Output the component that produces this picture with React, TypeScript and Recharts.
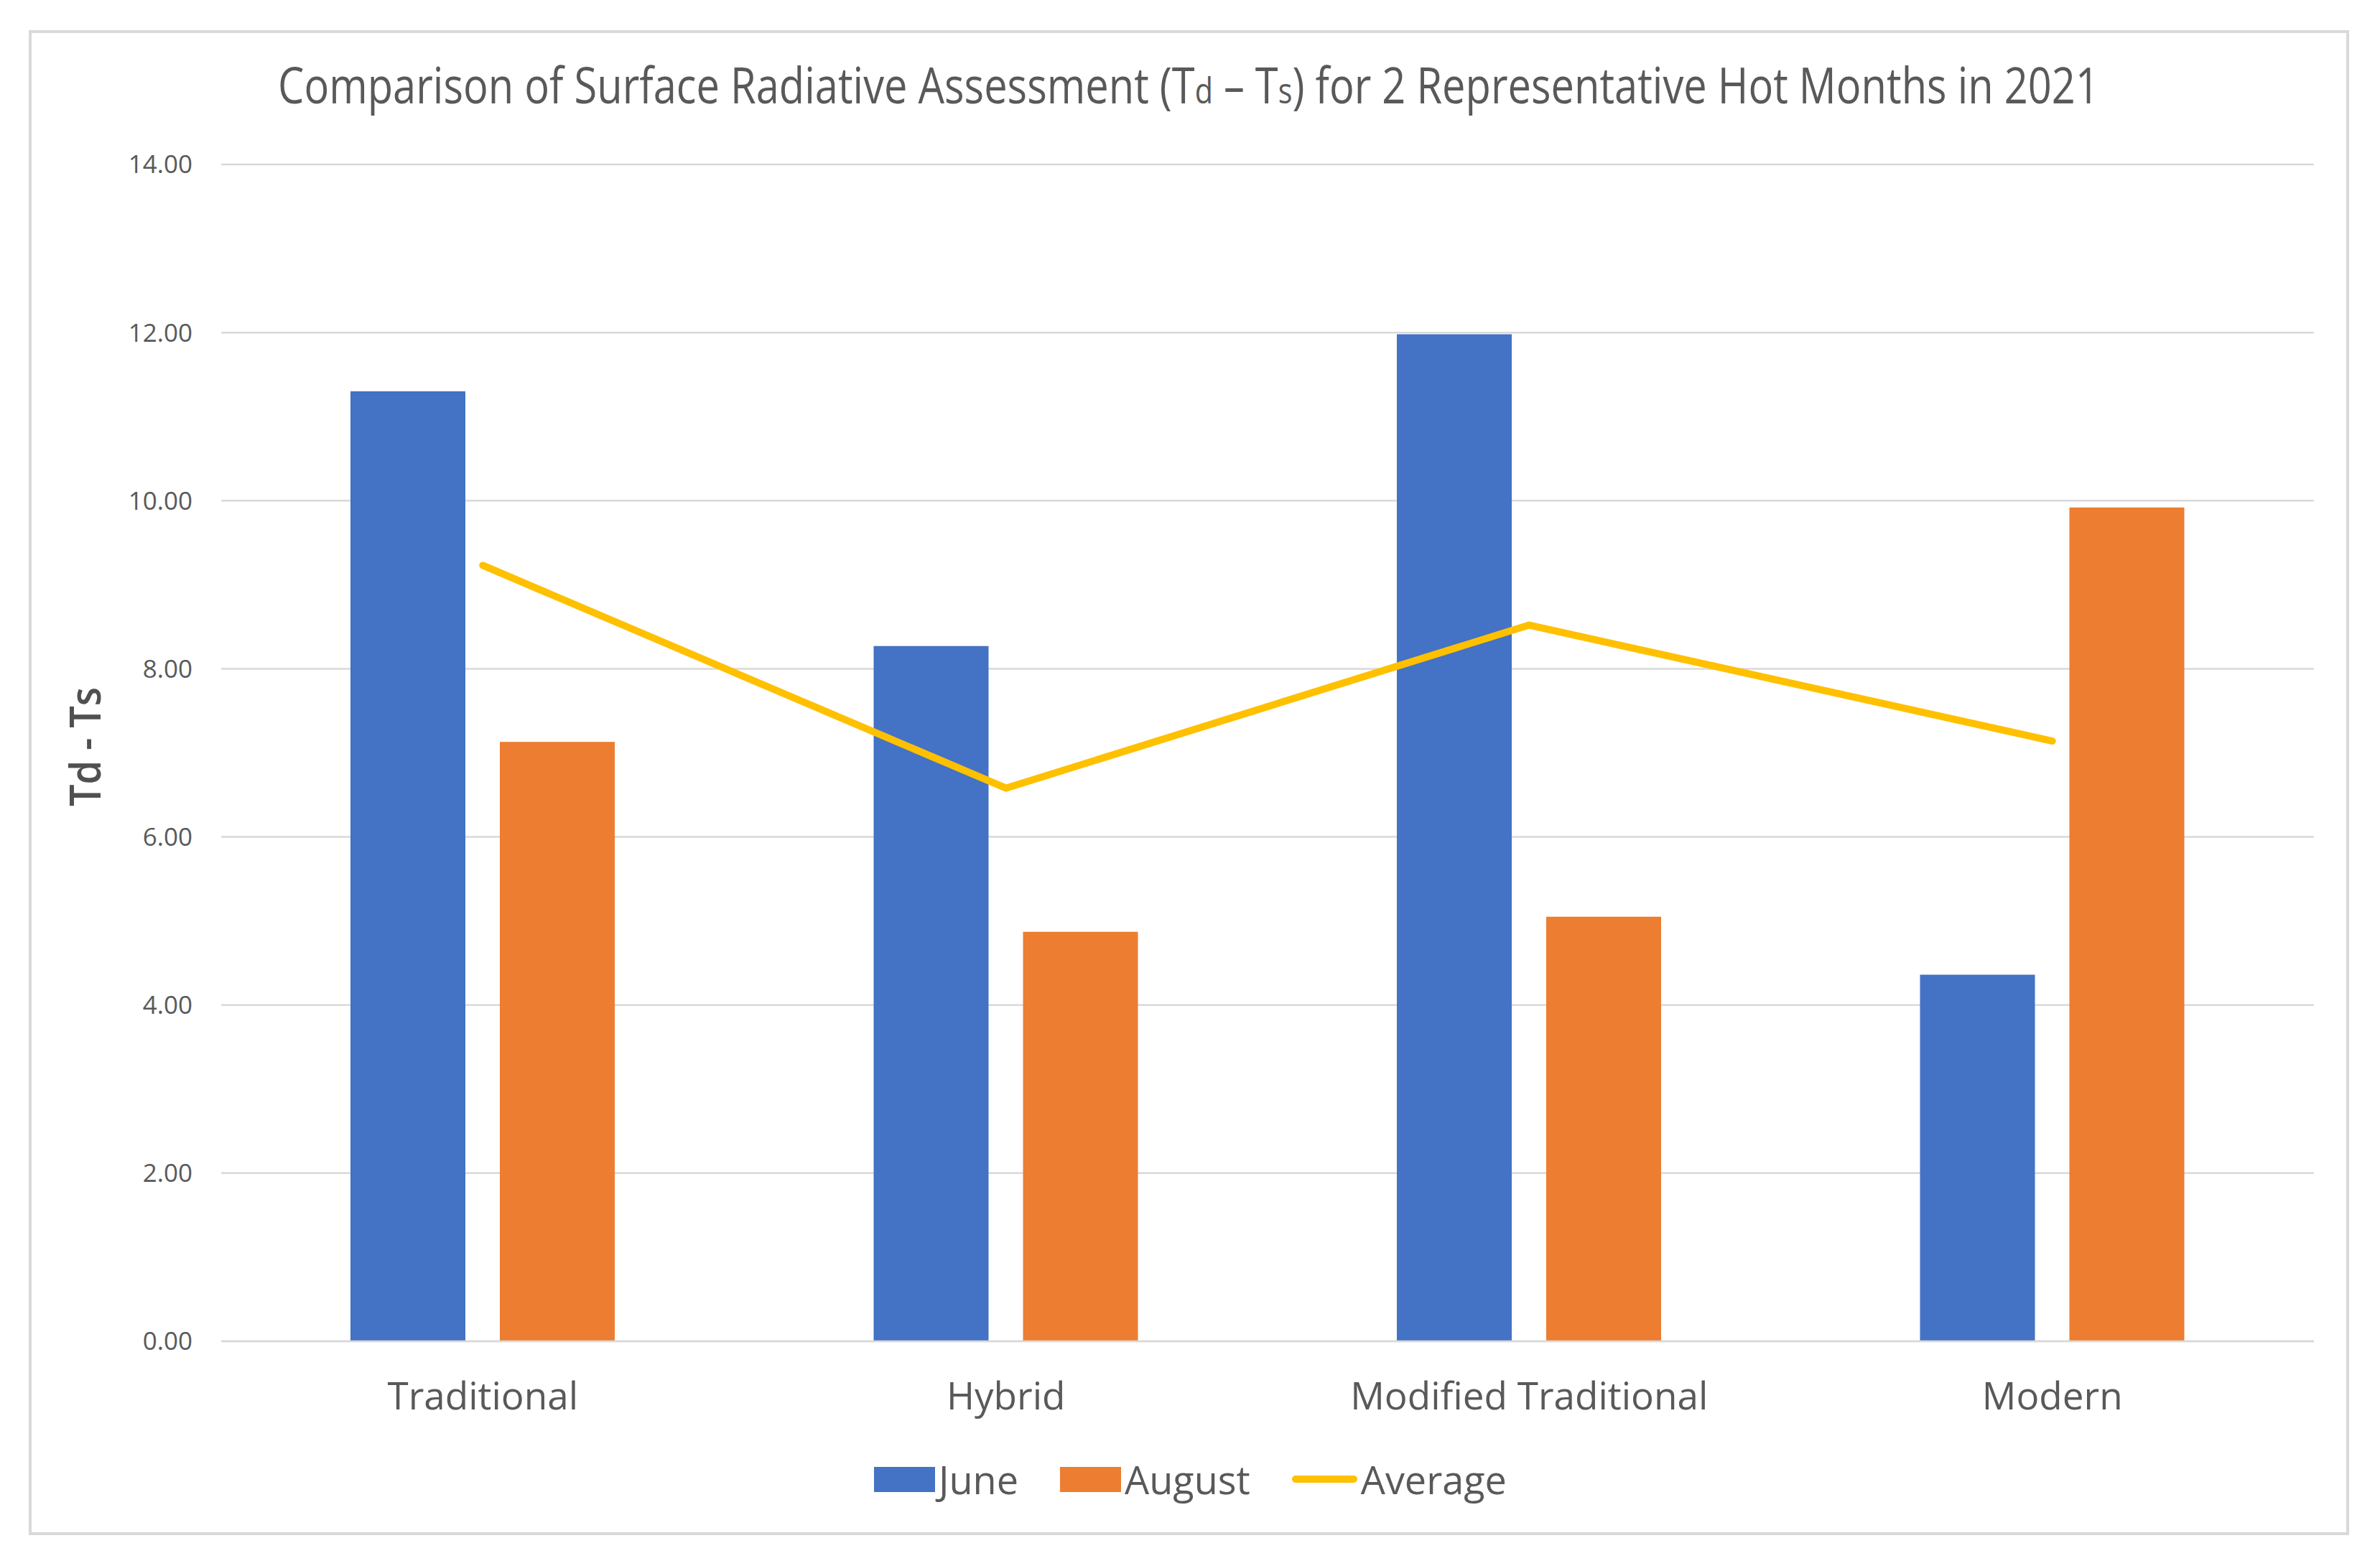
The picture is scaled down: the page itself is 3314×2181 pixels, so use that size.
import { useLayoutEffect, useRef, useState } from "react";
import { ComposedChart, Bar, Line, XAxis, YAxis, CartesianGrid } from "recharts";

const categories = ["Traditional", "Hybrid", "Modified Traditional", "Modern"];
const juneValues = [11.3, 8.27, 11.98, 4.36];
const augustValues = [7.13, 4.87, 5.05, 9.92];
const averageValues = [9.23, 6.58, 8.52, 7.14];
const yTicks = [0, 2, 4, 6, 8, 10, 12, 14];

const seriesNames = ["June", "August", "Average"];

const FONT = "'Open Sans', sans-serif";
const TEXT = "#595959";
const GRID = "#D9D9D9";
const COLORS = { june: "#4472C4", august: "#ED7D31", average: "#FFC000" };
const TITLE_WIDTH = 2536;

const data = categories.map((category, i) => ({
  category,
  june: juneValues[i],
  august: augustValues[i],
  average: averageValues[i],
}));

const LegendBox = () => {
  const items = [
    { name: seriesNames[0], color: COLORS.june, kind: "bar" },
    { name: seriesNames[1], color: COLORS.august, kind: "bar" },
    { name: seriesNames[2], color: COLORS.average, kind: "line" },
  ];
  return (
    <div
      style={{
        position: "absolute",
        left: 1217,
        top: 2020,
        height: 80,
        display: "flex",
        alignItems: "center",
        fontFamily: FONT,
        fontSize: 54,
        color: TEXT,
      }}
    >
      {items.map((it) => (
        <div key={it.name} style={{ display: "flex", alignItems: "center", marginRight: 58 }}>
          {it.kind === "bar" ? (
            <div style={{ width: 85, height: 35, background: it.color }} />
          ) : (
            <div style={{ width: 91, height: 10, borderRadius: 5, background: it.color }} />
          )}
          <span style={{ marginLeft: 5, lineHeight: "80px" }}>{it.name}</span>
        </div>
      ))}
    </div>
  );
};

export default function App() {
  // title font is narrower in the original, so squeeze it to the measured width
  const titleRef = useRef<SVGTextElement>(null);
  const [titleScale, setTitleScale] = useState(0.87);
  useLayoutEffect(() => {
    const el = titleRef.current;
    if (!el) return;
    const w = el.getBBox().width;
    if (w > 0) setTitleScale(TITLE_WIDTH / w);
  }, []);

  return (
    <div style={{ position: "absolute", left: 0, top: 0, width: 3314, height: 2181, background: "#fff" }}>
      <div
        style={{
          position: "absolute",
          left: 40,
          top: 42,
          width: 3231,
          height: 2096,
          border: `4px solid ${GRID}`,
          boxSizing: "border-box",
        }}
      />
      <div style={{ position: "absolute", left: 0, top: 0 }}>
        <ComposedChart
          width={3314}
          height={2181}
          data={data}
          margin={{ top: 229, right: 92, bottom: 283, left: 0 }}
          barGap={48}
        >
          <CartesianGrid vertical={false} stroke={GRID} strokeWidth={2.5} />
          <XAxis
            dataKey="category"
            height={30}
            interval={0}
            axisLine={{ stroke: GRID, strokeWidth: 2.5 }}
            tickLine={false}
            tickSize={0}
            tickMargin={57}
            tick={{ fontSize: 53, fill: TEXT, fontFamily: FONT }}
          />
          <YAxis
            width={308}
            domain={[0, 14]}
            ticks={yTicks}
            axisLine={false}
            tickLine={false}
            tickSize={0}
            tickMargin={40}
            tickFormatter={(v: number) => v.toFixed(2)}
            tick={{ fontSize: 35, fill: TEXT, fontFamily: FONT }}
          />
          <Bar dataKey="june" name={seriesNames[0]} fill={COLORS.june} barSize={160} isAnimationActive={false} />
          <Bar dataKey="august" name={seriesNames[1]} fill={COLORS.august} barSize={160} isAnimationActive={false} />
          <Line
            dataKey="average"
            name={seriesNames[2]}
            type="linear"
            stroke={COLORS.average}
            strokeWidth={10}
            strokeLinecap="round"
            strokeLinejoin="round"
            dot={false}
            activeDot={false}
            isAnimationActive={false}
          />
        </ComposedChart>
      </div>
      <svg
        width={3314}
        height={2181}
        style={{ position: "absolute", left: 0, top: 0, pointerEvents: "none" }}
      >
        <text
          ref={titleRef}
          x={0}
          y={0}
          transform={`translate(1655 144) scale(${titleScale} 1)`}
          textAnchor="middle"
          fontFamily={FONT}
          fontSize={70}
          fill={TEXT}
        >
          {"Comparison of Surface Radiative Assessment (T"}
          <tspan fontSize={50}>{"d"}</tspan>
          {" \u2013 T"}
          <tspan fontSize={50}>{"s"}</tspan>
          {") for 2 Representative Hot Months in 2021"}
        </text>
        <text
          x={140}
          y={1040}
          transform="rotate(-90 140 1040)"
          textAnchor="middle"
          fontFamily={FONT}
          fontSize={60}
          fontWeight={600}
          fill="#505050"
          textLength={166}
          lengthAdjust="spacingAndGlyphs"
        >
          {"Td - Ts"}
        </text>
      </svg>
      <LegendBox />
    </div>
  );
}
